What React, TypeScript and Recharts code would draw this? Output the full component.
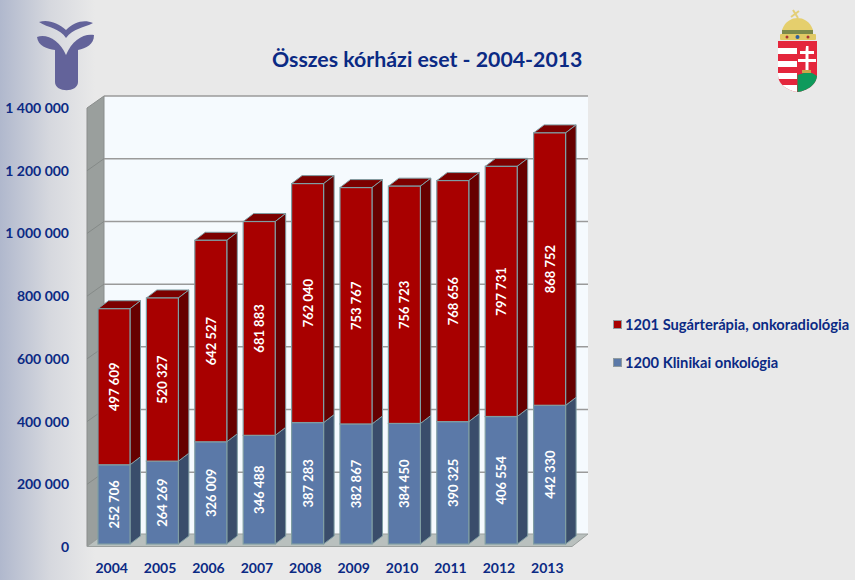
import { Bar, CartesianGrid, ComposedChart, LabelList, XAxis, YAxis } from 'recharts';

const years = ['2004', '2005', '2006', '2007', '2008', '2009', '2010', '2011', '2012', '2013'];
const klinikai = [252706, 264269, 326009, 346488, 387283, 382867, 384450, 390325, 406554, 442330];
const sugarterapia = [497609, 520327, 642527, 681883, 762040, 753767, 756723, 768656, 797731, 868752];
const yTicks = [0, 200000, 400000, 600000, 800000, 1000000, 1200000, 1400000];

const chartData = years.map((year, i) => ({ year, klinikai: klinikai[i], sugarterapia: sugarterapia[i] }));

const NAVY = '#0b2a84';
const FONT = 'Lato, sans-serif';
const EDGE = '#7f9da3';

// plot box of the chart, the painted walls are lined up to it
const PLOT_LEFT = 90;
const PLOT_TOP = 105;
const PLOT_BOTTOM = 544;
const WALL_DX = 14;
const WALL_DY = -9;
const WALL_W = 484;

const fmt = (v: number) => String(v).replace(/\B(?=(\d{3})+$)/g, ' ');

function Walls() {
  const left = PLOT_LEFT - 3;
  const top = PLOT_TOP + 3;
  const bottom = PLOT_BOTTOM + 2.5;
  const backX = PLOT_LEFT + WALL_DX;
  const backTop = PLOT_TOP + WALL_DY;
  const backBottom = bottom - 12.5;
  return (
    <svg width={855} height={580} style={{ position: 'absolute', left: 0, top: 0 }}>
      <rect x={backX} y={backTop} width={WALL_W} height={backBottom - backTop} fill="#f5fafe" />
      <line x1={backX} x2={backX + WALL_W} y1={backTop} y2={backTop} stroke="#9a9a9a" strokeWidth={1.5} />
      <polygon
        points={`${left},${top} ${backX},${backTop} ${backX},${backBottom} ${left},${bottom}`}
        fill="#9a9f9d"
        stroke="#8a8d8c"
      />
      <polygon
        points={`${left},${bottom} ${backX},${backBottom} ${backX + WALL_W},${backBottom} ${left + 485},${bottom}`}
        fill="#b9c0be"
        stroke="#9a9f9d"
      />
    </svg>
  );
}

function gridLine(props: any) {
  const y = props.y1;
  // top and bottom edges belong to the walls
  if (y <= PLOT_TOP || y >= PLOT_BOTTOM) return <g key={`grid-${y}`} />;
  return (
    <g key={`grid-${y}`}>
      <line x1={props.x1 - 3} y1={y + 3} x2={props.x1 + WALL_DX} y2={y + WALL_DY} stroke="#858a88" />
      <line
        x1={props.x1 + WALL_DX}
        y1={y + WALL_DY}
        x2={props.x1 + WALL_DX + WALL_W}
        y2={y + WALL_DY}
        stroke="#9a9a9a"
        strokeWidth={1.5}
      />
    </g>
  );
}

function Box3D(props: any) {
  const { x, y, width, height, front, side, top } = props;
  const dx = 10.5;
  const dy = -8;
  const r = x + width;
  const b = y + height;
  return (
    <g>
      <polygon points={`${x},${y} ${x + dx},${y + dy} ${r + dx},${y + dy} ${r},${y}`} fill={top} stroke={EDGE} />
      <polygon points={`${r},${y} ${r + dx},${y + dy} ${r + dx},${b + dy} ${r},${b}`} fill={side} stroke={EDGE} />
      <rect x={x} y={y} width={width} height={height} fill={front} stroke={EDGE} strokeWidth={1.2} />
    </g>
  );
}

function RotatedLabel(props: any) {
  const { x, y, width, height, value } = props;
  const cx = x + width / 2;
  const cy = y + height / 2;
  return (
    <text
      x={cx}
      y={cy}
      transform={`rotate(-90 ${cx} ${cy})`}
      textAnchor="middle"
      dominantBaseline="central"
      fill="#fff"
      fontSize={13}
      fontWeight={700}
      fontFamily={FONT}
    >
      {fmt(value)}
    </text>
  );
}

const legendItems = [
  { name: '1201 Sugárterápia, onkoradiológia', color: '#a80000', top: 315 },
  { name: '1200 Klinikai onkológia', color: '#5b79a8', top: 353 },
];

function Logo() {
  return (
    <svg width={100} height={100} style={{ position: 'absolute', left: 0, top: 0 }}>
      <defs>
        <filter id="soft">
          <feGaussianBlur stdDeviation="0.7" />
        </filter>
      </defs>
      <g fill="#64649a" filter="url(#soft)">
        <path d="M39 22 C48 19 58 23 66 30 C74 22 84 19 93 23 C84 28 73 28 66 38 C60 28 48 28 39 22 Z" />
        <path d="M37 37 C46 33 60 40 66 55 C72 40 84 33 94 35 C94 45 86 48 78 50 L78 82 C78 93 55 93 55 82 L55 50 C47 49 38 46 37 37 Z" />
      </g>
    </svg>
  );
}

function Crest() {
  return (
    <svg width={60} height={100} style={{ position: 'absolute', left: 770, top: 5 }}>
      <defs>
        <clipPath id="shield">
          <path d="M8 36 H47 V70 C47 80 36 86 27.5 87 C19 86 8 80 8 70 Z" />
        </clipPath>
      </defs>
      <path d="M21 12 L29 6 M23 5 L28 13" stroke="#e3cf78" strokeWidth={2} />
      <path d="M12 25 C15 16 22 13 27.5 13 C33 13 40 16 43 25 Z" fill="#e5cf6d" />
      <path d="M12 25 H43 V30 H12 Z" fill="#7c8a4a" />
      <rect x={10} y={29} width={36} height={6} rx={1} fill="#e0c964" />
      <circle cx={17} cy={32} r={1.5} fill="#a33" />
      <circle cx={27.5} cy={32} r={2} fill="#2f5f9e" />
      <circle cx={38} cy={32} r={1.5} fill="#a33" />
      <g clipPath="url(#shield)">
        <rect x={8} y={36} width={39} height={52} fill="#e4263c" />
        <rect x={8} y={43} width={19} height={6} fill="#fff" />
        <rect x={8} y={56} width={19} height={6} fill="#fff" />
        <rect x={8} y={68} width={19} height={6} fill="#fff" />
        <rect x={8} y={80} width={19} height={8} fill="#fff" />
        <path d="M27.5 88 V70 L34 68 H42 L47 71 V88 Z" fill="#0e9a5c" />
        <path d="M36 41 H38.5 V46 H44 V49 H38.5 V54 H46 V57 H38.5 V66 H35.5 V57 H28 V54 H35.5 V49 H30 V46 H35.5 Z" fill="#fff" />
        <rect x={32} y={65} width={9} height={3} fill="#c9a84a" />
      </g>
    </svg>
  );
}

export default function App() {
  return (
    <div
      style={{
        position: 'absolute',
        left: 0,
        top: 0,
        width: 855,
        height: 580,
        overflow: 'hidden',
        fontFamily: FONT,
        background: 'linear-gradient(to right, #b0b8cd 0px, #d6d8de 50px, #e9e9e9 95px)',
      }}
    >
      <Logo />
      <Crest />
      <div
        style={{
          position: 'absolute',
          left: 272,
          top: 45,
          whiteSpace: 'nowrap',
          color: NAVY,
          fontSize: 21.3,
          fontWeight: 700,
          lineHeight: '28px',
        }}
      >
        Összes kórházi eset - 2004-2013
      </div>
      <Walls />
      <ComposedChart
        width={855}
        height={580}
        data={chartData}
        margin={{ top: PLOT_TOP, right: 281, bottom: 0, left: 0 }}
        barCategoryGap={16}
        style={{ position: 'absolute', left: 0, top: 0 }}
      >
        <CartesianGrid vertical={false} horizontal={gridLine} />
        <XAxis
          dataKey="year"
          height={36}
          axisLine={false}
          tickLine={false}
          tickMargin={13}
          interval={0}
          dx={-2.5}
          tick={{ fill: NAVY, fontSize: 14, fontWeight: 700, fontFamily: FONT }}
        />
        <YAxis
          width={PLOT_LEFT}
          domain={[0, 1400000]}
          ticks={yTicks}
          tickFormatter={fmt}
          axisLine={false}
          tickLine={false}
          tickMargin={15}
          dy={3}
          tick={{ fill: NAVY, fontSize: 14, fontWeight: 700, fontFamily: FONT }}
        />
        <Bar
          dataKey="klinikai"
          stackId="a"
          barSize={32}
          isAnimationActive={false}
          shape={(p: any) => <Box3D {...p} front="#5b79a8" side="#3a4d6b" top="#46608a" />}
        >
          <LabelList dataKey="klinikai" content={RotatedLabel} />
        </Bar>
        <Bar
          dataKey="sugarterapia"
          stackId="a"
          barSize={32}
          isAnimationActive={false}
          shape={(p: any) => <Box3D {...p} front="#a80000" side="#660000" top="#7c0000" />}
        >
          <LabelList dataKey="sugarterapia" content={RotatedLabel} />
        </Bar>
      </ComposedChart>
      {legendItems.map((item) => (
        <div
          key={item.name}
          style={{
            position: 'absolute',
            left: 613,
            top: item.top,
            whiteSpace: 'nowrap',
            color: NAVY,
            fontSize: 14.7,
            fontWeight: 700,
            lineHeight: '18px',
          }}
        >
          <span
            style={{
              position: 'absolute',
              left: 0,
              top: 5,
              width: 7,
              height: 7,
              background: item.color,
              border: '1px solid #8f9a9f',
            }}
          />
          <span style={{ marginLeft: 12 }}>{item.name}</span>
        </div>
      ))}
    </div>
  );
}
